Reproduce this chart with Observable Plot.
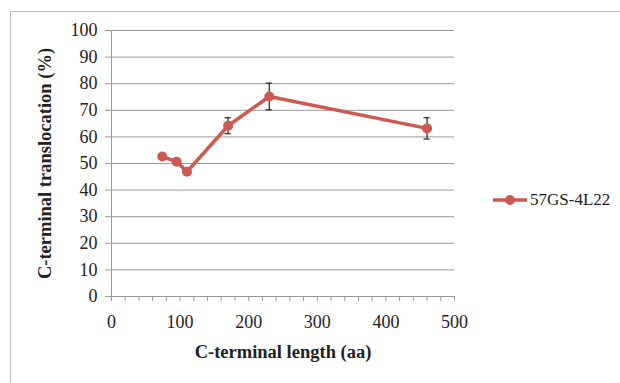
<!DOCTYPE html>
<html>
<head>
<meta charset="utf-8">
<script src="https://cdn.jsdelivr.net/npm/d3@7"></script>
<script src="https://cdn.jsdelivr.net/npm/@observablehq/plot@0.6"></script>
<style>
  html, body { margin: 0; padding: 0; background: #fff; }
  #wrap { position: relative; width: 620px; height: 383px; overflow: hidden; }
  #frame { position: absolute; left: 10px; top: 11px; width: 640px; height: 400px; border: 1px solid #bdbdbd; box-sizing: border-box; }
  #chart { position: absolute; left: 0; top: 0; }
  #legend { position: absolute; left: 492px; top: 190px; font-family: "Liberation Serif", serif; font-size: 17px; color: #222; display: flex; align-items: center; }
</style>
</head>
<body>
<div id="wrap">
  <div id="frame"></div>
  <div id="chart"></div>
  <div id="legend"></div>
</div>
<script>
const seriesName = "57GS-4L22";
const lengths = [74, 95, 110, 170, 230, 460];
const translocation = [52.6, 50.7, 46.9, 64.2, 75.2, 63.2];
const errors = [0, 0, 0, 3.0, 5.0, 4.0];
const xTicks = [0, 100, 200, 300, 400, 500];
const yTicks = [0, 10, 20, 30, 40, 50, 60, 70, 80, 90, 100];
const xTitle = "C-terminal length (aa)";
const yTitle = "C-terminal translocation (%)";

const color = "#cc5a50";
const data = lengths.map((x, i) => ({x, y: translocation[i], e: errors[i]}));
const errData = data.filter(d => d.e > 0);
const minorTicks = d3.range(0, 501, 20);

const chart = Plot.plot({
  width: 620,
  height: 383,
  marginLeft: 111,
  marginRight: 166,
  marginTop: 30,
  marginBottom: 87,
  style: {fontFamily: "'Liberation Serif', serif", fontSize: "18px", color: "#222", background: "transparent"},
  x: {domain: [0, 500]},
  y: {domain: [0, 100]},
  marks: [
    Plot.gridY(yTicks, {stroke: "#9a9a9a", strokeOpacity: 1, strokeWidth: 1}),
    Plot.ruleX([0], {stroke: "#9a9a9a"}),
    Plot.ruleY([0], {stroke: "#9a9a9a"}),
    Plot.axisY(yTicks, {tickSize: 6, tickPadding: 8, stroke: "#9a9a9a", label: null, fontSize: 18}),
    Plot.axisX(minorTicks, {tickSize: 5, tickPadding: 14, stroke: "#9a9a9a", label: null, tickFormat: d => d % 100 === 0 ? String(d) : "", fontSize: 18}),
    Plot.ruleX(errData, {x: "x", y1: d => d.y - d.e, y2: d => d.y + d.e, stroke: "#222", strokeWidth: 1.2}),
    Plot.ruleY(errData, {y: d => d.y + d.e, x1: d => d.x - 4.5, x2: d => d.x + 4.5, stroke: "#222", strokeWidth: 1.2}),
    Plot.ruleY(errData, {y: d => d.y - d.e, x1: d => d.x - 4.5, x2: d => d.x + 4.5, stroke: "#222", strokeWidth: 1.2}),
    Plot.line(data, {x: "x", y: "y", stroke: color, strokeWidth: 3.5}),
    Plot.dot(data, {x: "x", y: "y", r: 5, fill: color, stroke: "none"}),
    Plot.text([xTitle], {frameAnchor: "bottom", dy: 61, text: d => d, fontWeight: "bold", fontSize: 18.5}),
    Plot.text([yTitle], {frameAnchor: "left", dx: -66, rotate: -90, textAnchor: "middle", text: d => d, fontWeight: "bold", fontSize: 18.5})
  ]
});
document.getElementById("chart").appendChild(chart);

// legend
const lg = d3.select("#legend");
const ls = lg.append("svg").attr("width", 36).attr("height", 16);
ls.append("line").attr("x1", 1).attr("x2", 35).attr("y1", 8).attr("y2", 8).attr("stroke", color).attr("stroke-width", 3.5);
ls.append("circle").attr("cx", 18).attr("cy", 8).attr("r", 5).attr("fill", color);
lg.append("span").text(seriesName).style("margin-left", "2px");
</script>
</body>
</html>
